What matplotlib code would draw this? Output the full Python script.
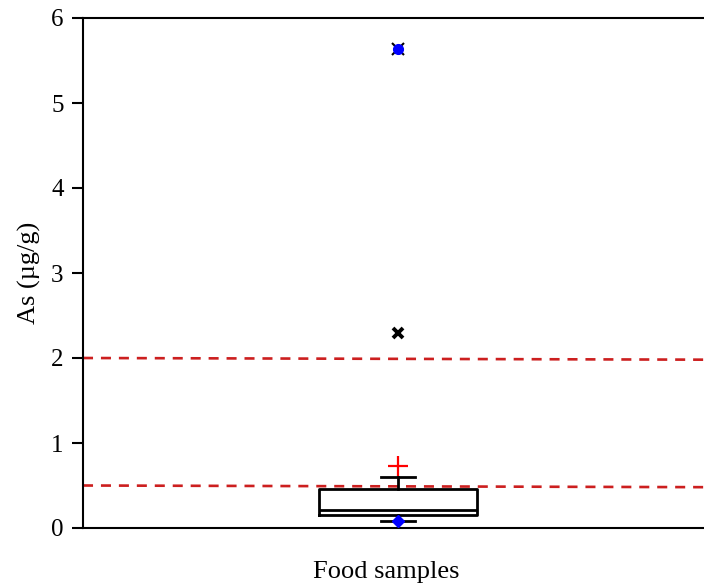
import matplotlib.pyplot as plt

# Datos (As en µg/g)
q1 = 0.15
mediana = 0.21
q3 = 0.455
bigote_inf = 0.08
bigote_sup = 0.60
valor_min = [0.08]
atipico_rojo = [0.73]
atipico_negro = [2.29]
maximo = [5.63]
# Líneas de referencia (inicio y fin, ligeramente inclinadas en el original)
limites_ini = [2.0, 0.5]
limites_fin = [1.98, 0.48]

plt.rcParams["font.family"] = "Liberation Serif"

fig = plt.figure(figsize=(7.04, 5.88), dpi=100)
ax = fig.add_axes([83 / 704, 60 / 588, 630 / 704, 510 / 588])

stats = [{"q1": q1, "med": mediana, "q3": q3,
          "whislo": bigote_inf, "whishi": bigote_sup, "fliers": []}]
ax.bxp(stats, positions=[1], widths=0.5, capwidths=0.108,
       showfliers=False,
       boxprops=dict(color="k", linewidth=2),
       medianprops=dict(color="k", linewidth=2),
       whiskerprops=dict(color="k", linewidth=2),
       capprops=dict(color="k", linewidth=2), zorder=3)

# Líneas punteadas rojas
for y0, y1 in zip(limites_ini, limites_fin):
    ax.plot([0, 2], [y0, y1], color="#cc1f1f", linewidth=1.9,
            dashes=(3.8, 3.0), zorder=2)

# Marcadores
ax.plot([1], valor_min, marker="D", color="blue", markersize=6, zorder=4)
ax.plot([1], atipico_rojo, marker="+", color="red", markersize=15,
        markeredgewidth=1.6, zorder=4)
ax.plot([1], atipico_negro, marker="x", color="k", markersize=7,
        markeredgewidth=2.8, zorder=4)
ax.plot([1], maximo, marker="o", color="blue", markersize=7, zorder=4)
ax.plot([1], maximo, marker="x", color="k", markersize=8,
        markeredgewidth=1.5, zorder=3)

ax.set_xlim(0, 2)
ax.set_ylim(0, 6)
ax.set_yticks(range(0, 7))
ax.set_xticks([])
ax.tick_params(axis="y", direction="out", length=8, width=1.5,
               labelsize=18, pad=6)
for s in ax.spines.values():
    s.set_linewidth(1.5)

ax.set_ylabel("As (µg/g)", fontsize=19, labelpad=7)
ax.set_xlabel("Food samples", fontsize=19)
ax.xaxis.set_label_coords(0.481, -0.065)

fig.savefig("out.png", dpi=100)
